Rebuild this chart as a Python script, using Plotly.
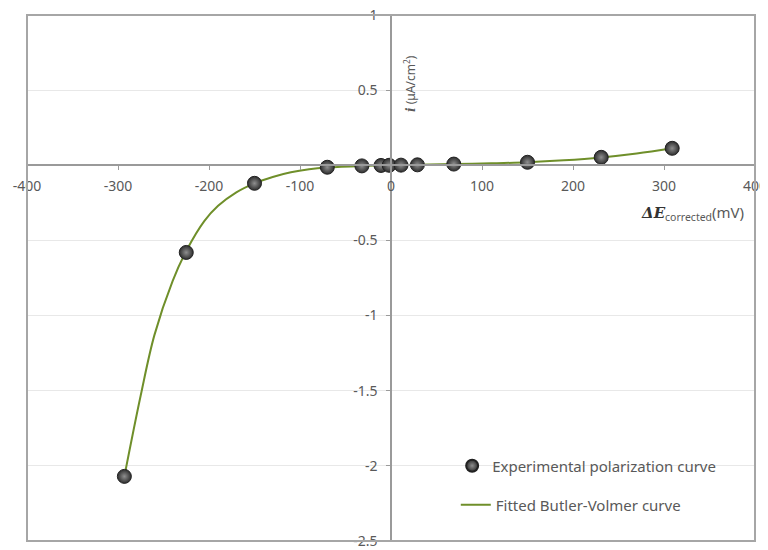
import plotly.graph_objects as go

# Experimental polarization data (mV, uA/cm2)
exp_x = [-293, -225, -150, -70, -32, -11, -2, 11, 29, 69, 150, 231, 309]
exp_y = [-2.07, -0.58, -0.12, -0.013, -0.004, -0.001, 0.0, 0.001, 0.003, 0.008, 0.02, 0.053, 0.113]

# Fitted Butler-Volmer curve
fit_x = [-293, -275, -260, -240, -225, -205, -190, -170, -150, -130, -110, -90, -70,
         -32, -11, -2, 11, 29, 69, 110, 150, 190, 231, 270, 309]
fit_y = [-2.07, -1.53, -1.13, -0.77, -0.57, -0.37, -0.27, -0.18, -0.12, -0.078, -0.047, -0.027, -0.015,
         -0.004, -0.001, 0.0, 0.001, 0.003, 0.008, 0.013, 0.02, 0.033, 0.052, 0.078, 0.113]

x_ticks = [-400, -300, -200, -100, 0, 100, 200, 300, 400]
x_tick_text = ["-400", "-300", "-200", "-100", "0", "100", "200", "300", "400"]
y_ticks = [-2.5, -2, -1.5, -1, -0.5, 0.5, 1]
y_tick_text = ["-2.5", "-2", "-1.5", "-1", "-0.5", "0.5", "1"]

FONT = "Noto Sans"
GRAY = "#595959"

fig = go.Figure()
fig.add_trace(go.Scatter(
    x=fit_x, y=fit_y, mode="lines", name="Fitted Butler-Volmer curve",
    line=dict(color="#6f8f2a", width=2, shape="spline", smoothing=1.0),
    legend="legend2", showlegend=True))
fig.add_trace(go.Scatter(
    x=exp_x, y=exp_y, mode="markers", name="Experimental polarization curve",
    marker=dict(size=14, color="#2e2e2e", line=dict(color="#222222", width=1),
                gradient=dict(type="radial", color="#8f8f8f")),
    legend="legend", showlegend=True))

fig.update_layout(
    width=760, height=542,
    margin=dict(l=19, r=13, t=7, b=9),
    plot_bgcolor="white", paper_bgcolor="white",
    font=dict(family=FONT, size=13, color=GRAY),
    showlegend=True,
    xaxis=dict(range=[-400, 400], tickvals=x_ticks, ticktext=x_tick_text,
               showgrid=False, automargin=False,
               zeroline=False, showline=True, linecolor="#9a9a9a", linewidth=1.5,
               anchor="free", position=2.5/3.5, ticks="outside", ticklen=4,
               ticklabelstandoff=4, ticklabeloverflow="allow",
               tickcolor="#9a9a9a", tickfont=dict(size=14, color=GRAY)),
    yaxis=dict(range=[-2.5, 1], tickvals=y_ticks, ticktext=y_tick_text, automargin=False,
               showgrid=True, gridcolor="#e8e8e8", gridwidth=1,
               zeroline=False, showline=True, linecolor="#9a9a9a", linewidth=1.5,
               anchor="free", position=0.5, ticks="outside", ticklen=4,
               ticklabelstandoff=6, ticklabeloverflow="allow",
               tickcolor="#9a9a9a", tickfont=dict(size=14, color=GRAY)),
    legend=dict(x=0.584, y=0.1426, xanchor="left", yanchor="middle",
                bgcolor="rgba(0,0,0,0)", font=dict(family=FONT, size=15, color=GRAY),
                itemsizing="constant"),
    legend2=dict(x=0.589, y=0.0684, xanchor="left", yanchor="middle",
                 bgcolor="rgba(0,0,0,0)", font=dict(family=FONT, size=15, color=GRAY)),
    shapes=[dict(type="rect", xref="paper", yref="paper", x0=0, x1=1, y0=0, y1=1,
                 line=dict(color="#a6a6a6", width=2), layer="above")],
    annotations=[
        dict(xref="paper", yref="paper", x=0.527, y=0.87, textangle=-90,
             showarrow=False, xanchor="center", yanchor="middle",
             text="<span style='font-family:DejaVu Serif'><b><i>i</i></b></span> (μA/cm<sup>2</sup>)",
             font=dict(family=FONT, size=12, color=GRAY)),
        dict(xref="paper", yref="paper", x=0.988, y=0.624, showarrow=False,
             xanchor="right", yanchor="middle",
             text="<span style='font-family:DejaVu Serif;color:#333333'><b><i>ΔE</i></b></span><sub>corrected</sub>(mV)",
             font=dict(family=FONT, size=15, color=GRAY)),
    ],
)

fig.write_html("out.html")
